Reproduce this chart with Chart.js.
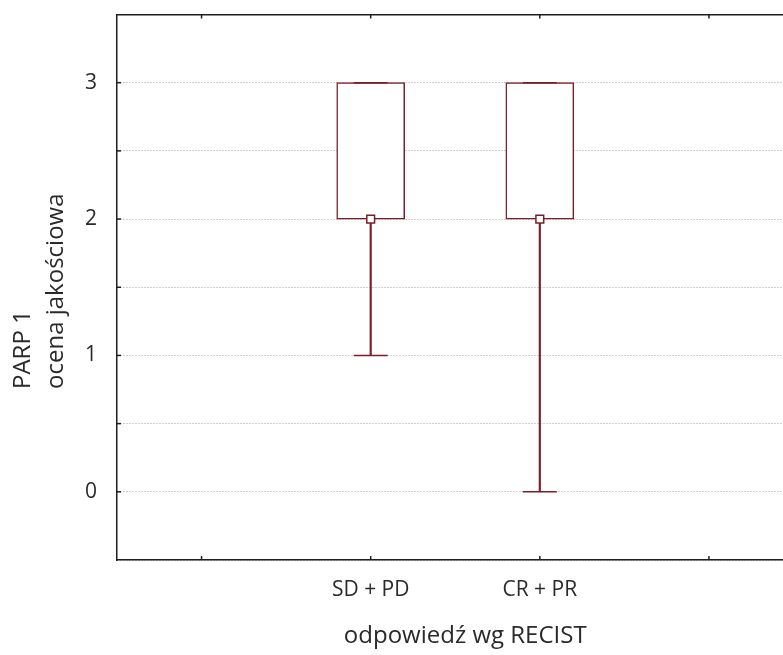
<!DOCTYPE html>
<html><head><meta charset="utf-8">
<script src="https://cdn.jsdelivr.net/npm/chart.js@4/dist/chart.umd.min.js"></script>
<style>html,body{margin:0;padding:0;overflow:hidden;background:#fff;}#wrap{width:812px;height:660px;margin-top:-4px;}</style>
</head><body><div id="wrap"><canvas id="c" width="812" height="660" style="width:812px;height:660px"></canvas></div>
<script>
const categories = ['', 'SD + PD', 'CR + PR', ''];
const whiskerMin = [null, 1, 0, null];
const quartile1 = [null, 2, 2, null];
const medians = [null, 2, 2, null];
const quartile3 = [null, 3, 3, null];
const whiskerMax = [null, 3, 3, null];
const xTitle = 'odpowiedź wg RECIST';
const yTitle = ['PARP 1', 'ocena jakościowa'];

const RED = '#7a1f28';
const FRAME = '#1e1e1e';
const FONT = 'Open Sans';
const TXT = '#2a2a2a';
const TICK_SIZE = 21;
const TITLE_SIZE = 24;

const pairs = (a, b) => a.map((v, i) => (v == null || b[i] == null) ? null : [v, b[i]]);

const innerTicks = {
  id: 'innerTicks',
  afterDraw(chart) {
    const {ctx, chartArea: a, scales} = chart;
    ctx.save();
    ctx.setLineDash([]);
    ctx.strokeStyle = FRAME; ctx.lineWidth = 1.5;
    const L = 4;
    scales.y.ticks.forEach(t => {
      if (t.value <= scales.y.min || t.value >= scales.y.max) return;
      const y = scales.y.getPixelForValue(t.value);
      ctx.beginPath(); ctx.moveTo(a.left, y); ctx.lineTo(a.left + L, y); ctx.stroke();
    });
    categories.forEach((c, i) => {
      const x = scales.x.getPixelForValue(i);
      ctx.beginPath(); ctx.moveTo(x, a.bottom); ctx.lineTo(x, a.bottom - L); ctx.stroke();
      ctx.beginPath(); ctx.moveTo(x, a.top); ctx.lineTo(x, a.top + L); ctx.stroke();
    });
    ctx.restore();
  }
};

const titlesPlugin = {
  id: 'titlesPlugin',
  afterDraw(chart) {
    const {ctx, chartArea: a} = chart;
    ctx.save();
    ctx.font = TITLE_SIZE + 'px "' + FONT + '"';
    ctx.fillStyle = TXT;
    ctx.textAlign = 'left';
    ctx.textBaseline = 'alphabetic';
    const maxW = Math.max(...yTitle.map(s => ctx.measureText(s).width));
    const startY = (a.top + a.bottom) / 2 + maxW / 2 + 4;
    const baselines = [30, 63];
    yTitle.forEach((s, i) => {
      ctx.save();
      ctx.translate(baselines[i], startY);
      ctx.rotate(-Math.PI / 2);
      ctx.fillText(s, 0, 0);
      ctx.restore();
    });
    ctx.textAlign = 'center';
    ctx.textBaseline = 'middle';
    ctx.fillText(xTitle, (a.left + a.right) / 2 + 10, a.bottom + 76);
    ctx.restore();
  }
};

new Chart(document.getElementById('c'), {
  data: {
    labels: categories,
    datasets: [
      { type: 'bar', data: pairs(quartile1, quartile3), backgroundColor: '#ffffff', borderColor: RED,
        borderWidth: 1.5, borderSkipped: false, barThickness: 68, grouped: false, order: 2 },
      { type: 'bar', data: pairs(whiskerMin, quartile1), backgroundColor: RED, borderWidth: 0,
        barThickness: 1.5, grouped: false, order: 3 },
      { type: 'bar', data: pairs(quartile3, whiskerMax), backgroundColor: RED, borderWidth: 0,
        barThickness: 1.5, grouped: false, order: 3 },
      { type: 'line', data: whiskerMin, showLine: false, pointStyle: 'line', pointRadius: 17,
        borderColor: RED, pointBorderWidth: 1.5, borderWidth: 1.5, order: 1 },
      { type: 'line', data: whiskerMax, showLine: false, pointStyle: 'line', pointRadius: 17,
        borderColor: RED, pointBorderWidth: 1.5, borderWidth: 1.5, order: 1 },
      { type: 'line', data: medians, showLine: false, pointStyle: 'rect', pointRadius: 5.5,
        backgroundColor: '#ffffff', pointBackgroundColor: '#ffffff', borderColor: RED,
        pointBorderColor: RED, pointBorderWidth: 1.5, order: 0 }
    ]
  },
  options: {
    responsive: false,
    animation: false,
    devicePixelRatio: 1,
    layout: { padding: { left: 0, right: 7, top: 0, bottom: 0 } },
    plugins: { legend: { display: false }, tooltip: { enabled: false } },
    scales: {
      x: {
        type: 'category', position: 'bottom', offset: true,
        grid: { display: false, drawTicks: false },
        border: { display: true, color: FRAME, width: 1.5 },
        ticks: { padding: 17, color: TXT, font: { family: FONT, size: TICK_SIZE } },
        afterFit(s) { s.height = 96; s.paddingLeft = 0; s.paddingRight = 0; }
      },
      x2: {
        type: 'category', position: 'top', offset: true,
        grid: { display: false, drawTicks: false },
        border: { display: true, color: FRAME, width: 1.5 },
        ticks: { display: false },
        afterFit(s) { s.height = 10.5; s.paddingLeft = 0; s.paddingRight = 0; }
      },
      y: {
        type: 'linear', min: -0.5, max: 3.5,
        grid: { color: '#a0a0a0', drawTicks: false, lineWidth: 1 },
        border: { display: true, color: FRAME, width: 1.5, dash: [1, 2] },
        ticks: { stepSize: 0.5, padding: 20, color: TXT, font: { family: FONT, size: TICK_SIZE },
          callback: v => Number.isInteger(v) ? String(v) : '' },
        afterFit(s) { s.width = 117; s.paddingTop = 0; s.paddingBottom = 0; }
      }
    }
  },
  plugins: [innerTicks, titlesPlugin]
});
</script>
</body></html>
